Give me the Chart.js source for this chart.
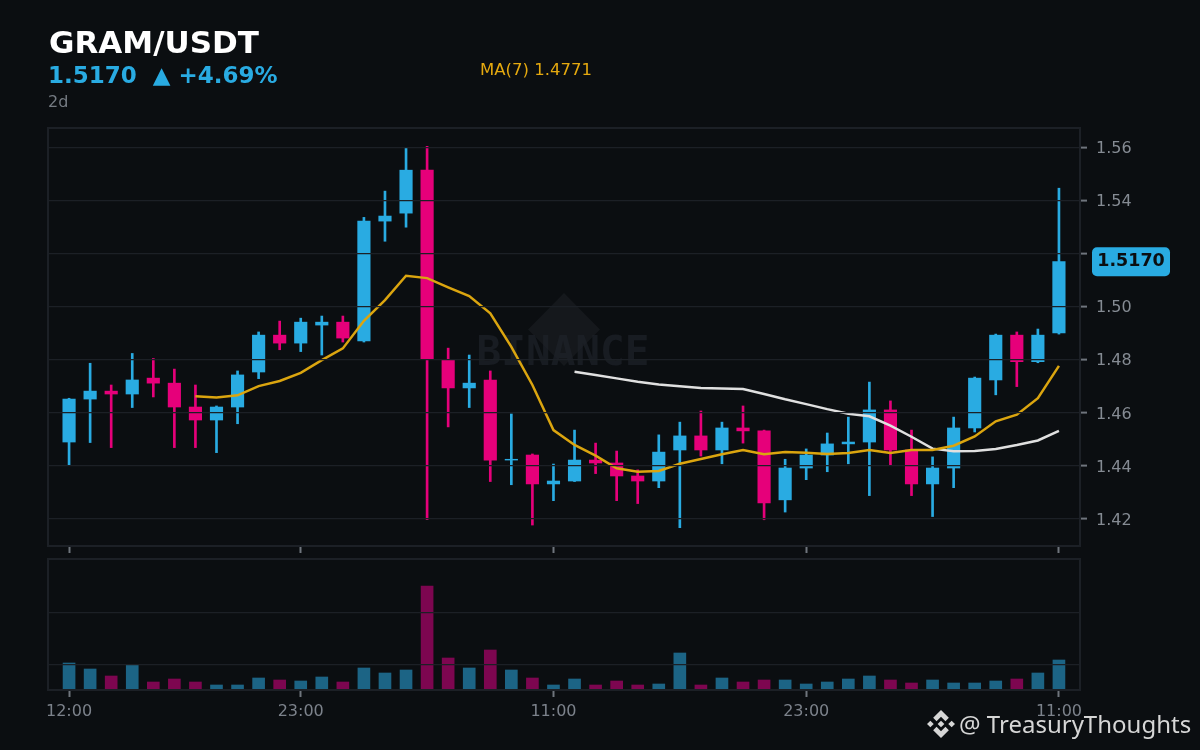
<!DOCTYPE html>
<html>
<head>
<meta charset="utf-8">
<title>GRAM/USDT</title>
<script src="https://cdn.jsdelivr.net/npm/chart.js@4/dist/chart.umd.min.js"></script>
<style>
    html, body { margin: 0; padding: 0; background: #0b0e11; }
    #wrap { position: relative; width: 1200px; height: 750px; overflow: hidden; background: #0b0e11; font-family: "DejaVu Sans", sans-serif; }
    canvas { position: absolute; left: 0; top: 0; }
    .txt { position: absolute; white-space: pre; line-height: 1; }
    #title { left: 49px; top: 27px; font-size: 31px; font-weight: bold; color: #ffffff; }
    #sub { left: 48px; top: 64px; font-size: 23px; font-weight: bold; color: #29abe2; }
    #period { left: 48px; top: 94px; font-size: 16px; color: #757b83; }
    #maText { left: 480px; top: 62px; font-size: 16.5px; color: #e5a90f; }
    #credit { left: 959px; top: 712px; font-size: 24px; color: #d6d6d6; font-family: "Noto Sans", sans-serif; }
    #logo { position: absolute; left: 927px; top: 710px; width: 28px; height: 28px; }
</style>
</head>
<body>
<div id="wrap">
    <canvas id="priceChart" width="1200" height="750"></canvas>
    <canvas id="volumeChart" width="1200" height="750"></canvas>
    <div class="txt" id="title">GRAM/USDT</div>
    <div class="txt" id="sub">1.5170  ▲ +4.69%</div>
    <div class="txt" id="period">2d</div>
    <div class="txt" id="maText">MA(7) 1.4771</div>
    <svg id="logo" viewBox="0 0 100 100" fill="#d6d6d6">
        <polygon points="50,0 78,28 66,40 50,24 34,40 22,28"/>
        <polygon points="50,100 78,72 66,60 50,76 34,60 22,72"/>
        <polygon points="0,50 12,38 24,50 12,62"/>
        <polygon points="100,50 88,38 76,50 88,62"/>
        <polygon points="50,38 62,50 50,62 38,50"/>
    </svg>
    <div class="txt" id="credit">@ TreasuryThoughts</div>
</div>

<script>
// Hourly candles
const categories = ['12:00','13:00','14:00','15:00','16:00','17:00','18:00','19:00','20:00','21:00','22:00','23:00',
    '00:00','01:00','02:00','03:00','04:00','05:00','06:00','07:00','08:00','09:00','10:00','11:00',
    '12:00','13:00','14:00','15:00','16:00','17:00','18:00','19:00','20:00','21:00','22:00','23:00',
    '00:00','01:00','02:00','03:00','04:00','05:00','06:00','07:00','08:00','09:00','10:00','11:00'];

const opens = [1.4490,1.4652,1.4682,1.4671,1.4731,1.4712,1.4622,1.4573,1.4622,1.4754,1.4893,1.4863,
    1.4931,1.4942,1.4871,1.5323,1.5353,1.5515,1.4799,1.4694,1.4724,1.4422,1.4441,1.4332,
    1.4343,1.4422,1.4411,1.4362,1.4343,1.4460,1.4513,1.4460,1.4543,1.4532,1.4272,1.4392,
    1.4441,1.4483,1.4490,1.4611,1.4460,1.4332,1.4392,1.4543,1.4724,1.4893,1.4793,1.4901];
const highs = [1.4655,1.4787,1.4705,1.4824,1.4805,1.4765,1.4705,1.4626,1.4758,1.4905,1.4946,1.4957,
    1.4965,1.4965,1.5337,1.5436,1.5598,1.5605,1.4844,1.4818,1.4758,1.4596,1.4445,1.4407,
    1.4535,1.4486,1.4456,1.4385,1.4517,1.4565,1.4607,1.4565,1.4626,1.4535,1.4425,1.4464,
    1.4524,1.4584,1.4716,1.4645,1.4535,1.4434,1.4584,1.4735,1.4897,1.4905,1.4916,1.5447];
const lows = [1.4401,1.4488,1.4469,1.4620,1.4660,1.4469,1.4469,1.4450,1.4559,1.4729,1.4838,1.4831,
    1.4818,1.4867,1.4867,1.5247,1.5300,1.4197,1.4547,1.4620,1.4341,1.4329,1.4177,1.4269,
    1.4341,1.4371,1.4269,1.4258,1.4318,1.4167,1.4437,1.4408,1.4486,1.4197,1.4226,1.4348,
    1.4378,1.4408,1.4288,1.4401,1.4288,1.4209,1.4318,1.4528,1.4668,1.4699,1.4789,1.4897];
const closes = [1.4652,1.4682,1.4671,1.4724,1.4712,1.4622,1.4573,1.4622,1.4743,1.4893,1.4863,1.4942,
    1.4942,1.4882,1.5323,1.5342,1.5515,1.4803,1.4694,1.4712,1.4422,1.4425,1.4332,1.4343,
    1.4422,1.4411,1.4362,1.4343,1.4452,1.4513,1.4460,1.4543,1.4532,1.4260,1.4392,1.4441,
    1.4483,1.4490,1.4611,1.4460,1.4332,1.4392,1.4543,1.4731,1.4893,1.4793,1.4893,1.5170];

const ma7 = [null,null,null,null,null,null,1.4663,1.4658,1.4666,1.4701,1.4720,1.4751,
    1.4799,1.4843,1.4947,1.5025,1.5117,1.5108,1.5073,1.5040,1.4975,1.4849,1.4705,1.4535,
    1.4479,1.4439,1.4391,1.4378,1.4381,1.4408,1.4426,1.4444,1.4460,1.4444,1.4452,1.4450,
    1.4445,1.4449,1.4460,1.4449,1.4460,1.4460,1.4476,1.4511,1.4568,1.4593,1.4655,1.4777];
const ma25 = [null,null,null,null,null,null,null,null,null,null,null,null,
    null,null,null,null,null,null,null,null,null,null,null,null,
    1.4755,1.4743,1.4730,1.4717,1.4707,1.4700,1.4694,1.4692,1.4690,1.4671,1.4651,1.4633,
    1.4614,1.4597,1.4587,1.4552,1.4510,1.4465,1.4455,1.4456,1.4464,1.4479,1.4496,1.4532];

const volumes = [81,63,42,75,24,33,24,15,15,36,30,27,39,24,66,51,60,312,96,66,120,60,36,15,
    33,15,27,15,18,111,15,36,24,30,30,18,24,33,42,30,21,30,21,21,27,33,51,90];

const priceTicks = [1.42,1.44,1.46,1.48,1.50,1.52,1.54,1.56];
const priceTickLabels = ['1.42','1.44','1.46','1.48','1.50','','1.54','1.56']; // 1.52 sits under the price tag
const volumeTicks = [75,231];
const timeTicks = [0,11,23,35,47];
const lastPrice = 1.5170;

const BLUE = '#29abe2';
const PINK = '#e6007a';
const BLUE_VOL = '#1c6485';
const PINK_VOL = '#7d0650';
const GRID = '#1c2026';
const TICK_TEXT = '#7c828b';
const BG = '#0b0e11';

const isUp = i => closes[i] >= opens[i];
const points = arr => arr.map((v, i) => ({ x: i, y: v }));

// panel frame, same for both charts
const framePlugin = {
    id: 'frame',
    afterDraw(chart) {
        const a = chart.chartArea, ctx = chart.ctx;
        ctx.save();
        ctx.strokeStyle = GRID;
        ctx.lineWidth = 2;
        ctx.strokeRect(a.left, a.top, a.right - a.left, a.bottom - a.top);
        ctx.restore();
    }
};

// watermark behind the candles
const watermarkPlugin = {
    id: 'watermark',
    beforeDatasetsDraw(chart) {
        const ctx = chart.ctx;
        ctx.save();
        ctx.fillStyle = '#15181c';
        ctx.beginPath();
        ctx.moveTo(564, 293);
        ctx.lineTo(600, 329.5);
        ctx.lineTo(564, 366);
        ctx.lineTo(528, 329.5);
        ctx.closePath();
        ctx.fill();
        ctx.fillStyle = 'rgba(30, 34, 41, 0.7)';
        ctx.font = 'bold 41px "DejaVu Sans Mono"';
        ctx.textAlign = 'center';
        ctx.textBaseline = 'alphabetic';
        ctx.fillText('BINANCE', 563, 365);
        ctx.restore();
    }
};

// last price tag on the right axis
const priceTagPlugin = {
    id: 'priceTag',
    afterDraw(chart) {
        const ctx = chart.ctx;
        const y = chart.scales.y.getPixelForValue(lastPrice);
        ctx.save();
        ctx.fillStyle = BLUE;
        ctx.beginPath();
        ctx.roundRect(1092, y - 14.5, 78, 29, 5);
        ctx.fill();
        ctx.fillStyle = BG;
        ctx.font = 'bold 17.5px "DejaVu Sans"';
        ctx.textAlign = 'center';
        ctx.textBaseline = 'middle';
        ctx.fillText(lastPrice.toFixed(4), 1131, y);
        ctx.restore();
    }
};

// the volume panel sits on top of the price chart labels
const panelFillPlugin = {
    id: 'panelFill',
    beforeDraw(chart) {
        const a = chart.chartArea, ctx = chart.ctx;
        ctx.save();
        ctx.fillStyle = BG;
        ctx.fillRect(a.left, a.top, a.right - a.left, a.bottom - a.top);
        ctx.restore();
    }
};

function timeAxis(height) {
    return {
        type: 'linear',
        min: -1,
        max: 48,
        offset: false,
        afterBuildTicks: scale => { scale.ticks = timeTicks.map(v => ({ value: v })); },
        afterFit: scale => { scale.height = height; },
        grid: { offset: false, drawOnChartArea: false, drawTicks: true, tickLength: 7, tickWidth: 2, tickColor: '#6f757d' },
        border: { display: false },
        ticks: {
            color: TICK_TEXT,
            font: { family: 'DejaVu Sans', size: 16 },
            padding: 5,
            maxRotation: 0,
            callback: v => categories[v]
        }
    };
}

new Chart(document.getElementById('priceChart'), {
    type: 'bar',
    data: {
        datasets: [
            {
                label: 'wick',
                data: points(lows.map((v, i) => [v, highs[i]])),
                backgroundColor: lows.map((v, i) => isUp(i) ? BLUE : PINK),
                barThickness: 2,
                order: 4
            },
            {
                label: 'body',
                data: points(opens.map((v, i) => [v, closes[i]])),
                backgroundColor: opens.map((v, i) => isUp(i) ? BLUE : PINK),
                barThickness: 12.5,
                order: 3
            },
            {
                type: 'line',
                label: 'MA(25)',
                data: points(ma25),
                borderColor: '#e0e0e0',
                borderWidth: 2.5,
                pointRadius: 0,
                tension: 0,
                order: 2
            },
            {
                type: 'line',
                label: 'MA(7)',
                data: points(ma7),
                borderColor: '#dba50f',
                borderWidth: 2.5,
                pointRadius: 0,
                tension: 0,
                order: 1
            }
        ]
    },
    options: {
        responsive: false,
        animation: false,
        layout: { autoPadding: false, padding: { left: 48, top: 128, right: 0, bottom: 0 } },
        plugins: { legend: { display: false }, tooltip: { enabled: false } },
        datasets: { bar: { grouped: false, borderWidth: 0 } },
        scales: {
            x: timeAxis(204),
            y: {
                position: 'right',
                min: 1.4098,
                max: 1.5674,
                afterBuildTicks: scale => { scale.ticks = priceTicks.map(v => ({ value: v })); },
                afterFit: scale => { scale.width = 120; },
                grid: { color: GRID, lineWidth: 1.2, z: 1, tickLength: 7, tickWidth: 2, tickColor: '#6f757d' },
                border: { display: false },
                ticks: {
                    color: '#858b93',
                    font: { family: 'DejaVu Sans', size: 16 },
                    padding: 9,
                    labelOffset: 1.5,
                    callback: (v, i) => priceTickLabels[i]
                }
            }
        }
    },
    plugins: [watermarkPlugin, framePlugin, priceTagPlugin]
});

new Chart(document.getElementById('volumeChart'), {
    type: 'bar',
    data: {
        datasets: [{
            label: 'volume',
            data: points(volumes),
            backgroundColor: volumes.map((v, i) => isUp(i) ? BLUE_VOL : PINK_VOL),
            barThickness: 12
        }]
    },
    options: {
        responsive: false,
        animation: false,
        layout: { autoPadding: false, padding: { left: 48, top: 559, right: 120, bottom: 0 } },
        plugins: { legend: { display: false }, tooltip: { enabled: false } },
        datasets: { bar: { grouped: false, borderWidth: 0 } },
        scales: {
            x: timeAxis(60),
            y: {
                min: 0,
                max: 393,
                afterBuildTicks: scale => { scale.ticks = volumeTicks.map(v => ({ value: v })); },
                afterFit: scale => { scale.width = 0; },
                grid: { color: GRID, lineWidth: 1.2, z: 1, drawTicks: false },
                border: { display: false },
                ticks: { display: false }
            }
        }
    },
    plugins: [panelFillPlugin, framePlugin]
});
</script>
</body>
</html>
